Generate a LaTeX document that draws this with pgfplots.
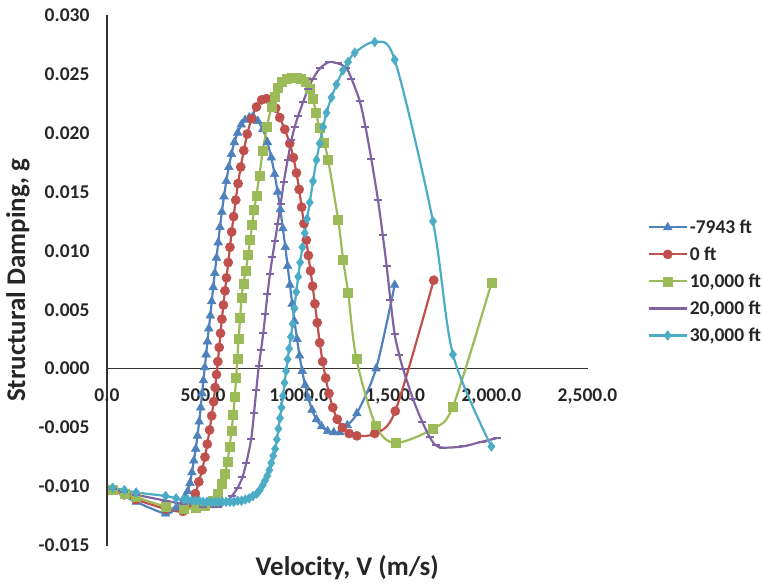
\documentclass[border=0pt]{standalone}
\usepackage{pgfplots}
\pgfplotsset{compat=1.18}
\usepackage{fontspec}
\setmainfont{Carlito}
\definecolor{cblue}{HTML}{4F81BD}
\definecolor{cred}{HTML}{C0504D}
\definecolor{cgreen}{HTML}{9BBB59}
\definecolor{cpurple}{HTML}{8064A2}
\definecolor{ccyan}{HTML}{4BACC6}
\begin{document}
\begin{tikzpicture}
\begin{axis}[
  scale only axis, width=481pt, height=531pt,
  xmin=0, xmax=2500, ymin=-0.015, ymax=0.030,
  scaled y ticks=false, scaled x ticks=false,
  clip=false,
  axis y line=left, axis x line=middle,
  axis line style={-, line width=1.3pt, black!80},
  hide obscured x ticks=false, hide obscured y ticks=false,
  xtick={0,500,1000,1500,2000,2500},
  xticklabels={0.0,500.0,{1,000.0},{1,500.0},{2,000.0},{2,500.0}},
  ytick={-0.015,-0.01,-0.005,0,0.005,0.01,0.015,0.02,0.025,0.03},
  yticklabels={-0.015,-0.010,-0.005,0.000,0.005,0.010,0.015,0.020,0.025,0.030},
  major tick length=0pt,
  tick label style={font=\fontsize{19.5}{23}\selectfont\bfseries, text=black!85},
  xticklabel style={anchor=north, yshift=-17pt},
  yticklabel style={anchor=east, xshift=-14pt},
  every axis x label/.style={at={(axis description cs:0.5,-0.041)}, anchor=center},
  every axis y label/.style={at={(axis description cs:-0.185,0.5)}, rotate=90, anchor=center},
  label style={font=\fontsize{27}{32}\selectfont\bfseries, text=black!85},
  xlabel={Velocity, V (m/s)},
  ylabel={Structural Damping, g},
  legend style={at={(axis description cs:1.1247,0.618)}, anchor=north west, draw=none, fill=none,
    font=\fontsize{19.5}{23}\selectfont\bfseries, text=black!85, row sep=8pt, inner sep=0pt},
  legend cell align=left,
  legend image code/.code={\draw[mark repeat=2,mark phase=2] plot coordinates {(0pt,0pt) (19pt,0pt) (38pt,0pt)};},
  every axis plot/.append style={line width=2.2pt, smooth},
]
\path (axis description cs:-0.2225,-0.0753) rectangle (axis description cs:1.3638,1.0282);

\addplot[cblue, mark=triangle*, mark size=5pt, mark options={solid, line width=0.5pt}] table {
x y
30 -0.0102
91 -0.0108
152 -0.0113
305 -0.0123
360 -0.0118
400 -0.0110
420 -0.0104
432 -0.0097
442 -0.0088
452 -0.0078
462 -0.0068
471 -0.0057
480 -0.0045
488 -0.0033
495 -0.0021
502 -0.0010
509 0.0001
516 0.0012
523 0.0023
530 0.0034
538 0.0045
545 0.0057
553 0.0069
561 0.0081
570 0.0094
579 0.0107
588 0.0120
598 0.0133
609 0.0146
621 0.0159
634 0.0171
648 0.0182
663 0.0192
680 0.0200
699 0.0207
719 0.0211
740 0.0213
760 0.0214
785 0.0210
811 0.0203
835 0.0192
855 0.0179
872 0.0165
888 0.0150
902 0.0135
915 0.0119
928 0.0103
940 0.0087
952 0.0071
964 0.0055
976 0.0040
989 0.0025
1002 0.0011
1016 -0.0002
1031 -0.0014
1048 -0.0025
1067 -0.0035
1090 -0.0043
1117 -0.0049
1148 -0.0053
1180 -0.0054
1212 -0.0054
1250 -0.0048
1300 -0.0038
1400 0.0000
1497 0.0071
};
\addlegendentry{-7943 ft}

\addplot[cred, mark=*, mark size=4.6pt, mark options={solid, line width=0.5pt}] table {
x y
30 -0.0103
91 -0.0107
152 -0.0111
305 -0.0119
395 -0.0121
440 -0.0114
460 -0.0106
478 -0.0096
495 -0.0086
510 -0.0075
522 -0.0064
534 -0.0052
545 -0.0040
555 -0.0028
563 -0.0016
570 -0.0005
577 0.0006
584 0.0018
591 0.0030
598 0.0042
606 0.0054
614 0.0066
622 0.0077
631 0.0090
640 0.0103
649 0.0116
659 0.0129
670 0.0143
682 0.0157
696 0.0171
712 0.0185
730 0.0199
752 0.0212
778 0.0222
805 0.0228
830 0.0229
855 0.0226
878 0.0221
899 0.0213
925 0.0203
951 0.0191
970 0.0179
986 0.0166
1000 0.0152
1013 0.0137
1025 0.0123
1037 0.0109
1048 0.0096
1059 0.0083
1070 0.0070
1082 0.0055
1094 0.0039
1107 0.0022
1122 0.0006
1138 -0.0008
1155 -0.0021
1175 -0.0033
1198 -0.0043
1225 -0.0050
1260 -0.0055
1300 -0.0057
1393 -0.0055
1500 -0.0036
1700 0.0075
};
\addlegendentry{0 ft}

\addplot[cgreen, mark=square*, mark size=4.5pt, mark options={solid, line width=0.5pt}] table {
x y
30 -0.0103
91 -0.0106
152 -0.0109
305 -0.0117
400 -0.0119
460 -0.0118
510 -0.0116
550 -0.0112
578 -0.0106
598 -0.0098
614 -0.0089
627 -0.0079
638 -0.0066
648 -0.0053
657 -0.0039
665 -0.0024
672 -0.0008
678 0.0008
685 0.0025
693 0.0043
700 0.0060
710 0.0072
722 0.0083
735 0.0097
745 0.0109
755 0.0122
766 0.0135
778 0.0147
793 0.0164
811 0.0185
832 0.0205
856 0.0222
872 0.0231
890 0.0238
910 0.0243
935 0.0246
962 0.0247
986 0.0247
1010 0.0246
1035 0.0243
1055 0.0237
1072 0.0229
1088 0.0217
1105 0.0204
1128 0.0192
1151 0.0177
1203 0.0126
1229 0.0092
1255 0.0064
1298 0.0008
1398 -0.0048
1500 -0.0063
1695 -0.0051
1800 -0.0032
2001 0.0073
};
\addlegendentry{10,000 ft}

\addplot[cpurple, mark=-, mark size=4pt, mark options={solid, line width=2pt}] table {
x y
30 -0.0102
91 -0.0105
152 -0.0107
305 -0.0112
400 -0.0115
500 -0.0117
580 -0.0117
620 -0.0113
650 -0.0108
680 -0.0101
705 -0.0092
725 -0.0080
750 -0.0060
765 -0.0038
777 -0.0018
790 0.0002
802 0.0016
813 0.0030
824 0.0046
835 0.0063
848 0.0080
861 0.0095
874 0.0108
888 0.0123
904 0.0140
920 0.0158
940 0.0177
960 0.0194
977 0.0205
994 0.0214
1020 0.0226
1046 0.0237
1072 0.0246
1110 0.0255
1155 0.0260
1200 0.0259
1246 0.0255
1272 0.0246
1315 0.0227
1345 0.0205
1375 0.0178
1410 0.0143
1435 0.0113
1455 0.0087
1475 0.0058
1497 0.0029
1520 0.0012
1540 0.0000
1593 -0.0026
1640 -0.0045
1679 -0.0058
1710 -0.0065
1750 -0.0067
1850 -0.0066
1950 -0.0062
2027 -0.0059
};
\addlegendentry{20,000 ft}

\addplot[ccyan, mark=diamond*, mark size=4.8pt, mark options={solid, line width=0.5pt}] table {
x y
30 -0.0101
91 -0.0103
152 -0.0105
305 -0.0108
360 -0.0110
400 -0.0111
420 -0.0111
440 -0.0112
460 -0.0112
480 -0.0112
500 -0.0113
520 -0.0113
540 -0.0113
560 -0.0113
580 -0.0113
600 -0.0113
620 -0.0113
640 -0.0113
660 -0.0113
680 -0.0112
700 -0.0112
720 -0.0111
740 -0.0110
760 -0.0108
780 -0.0106
795 -0.0103
810 -0.0099
822 -0.0095
834 -0.0091
845 -0.0086
855 -0.0080
865 -0.0074
875 -0.0068
884 -0.0060
892 -0.0051
900 -0.0042
908 -0.0033
916 -0.0023
924 -0.0012
932 -0.0002
940 0.0008
948 0.0017
957 0.0027
966 0.0038
975 0.0051
985 0.0065
995 0.0078
1005 0.0090
1017 0.0103
1029 0.0115
1041 0.0127
1055 0.0141
1072 0.0159
1090 0.0177
1107 0.0191
1125 0.0205
1142 0.0217
1168 0.0230
1194 0.0241
1228 0.0253
1254 0.0260
1289 0.0268
1393 0.0277
1497 0.0262
1696 0.0125
1800 0.0012
2000 -0.0066
};
\addlegendentry{30,000 ft}
\end{axis}
\end{tikzpicture}
\end{document}
